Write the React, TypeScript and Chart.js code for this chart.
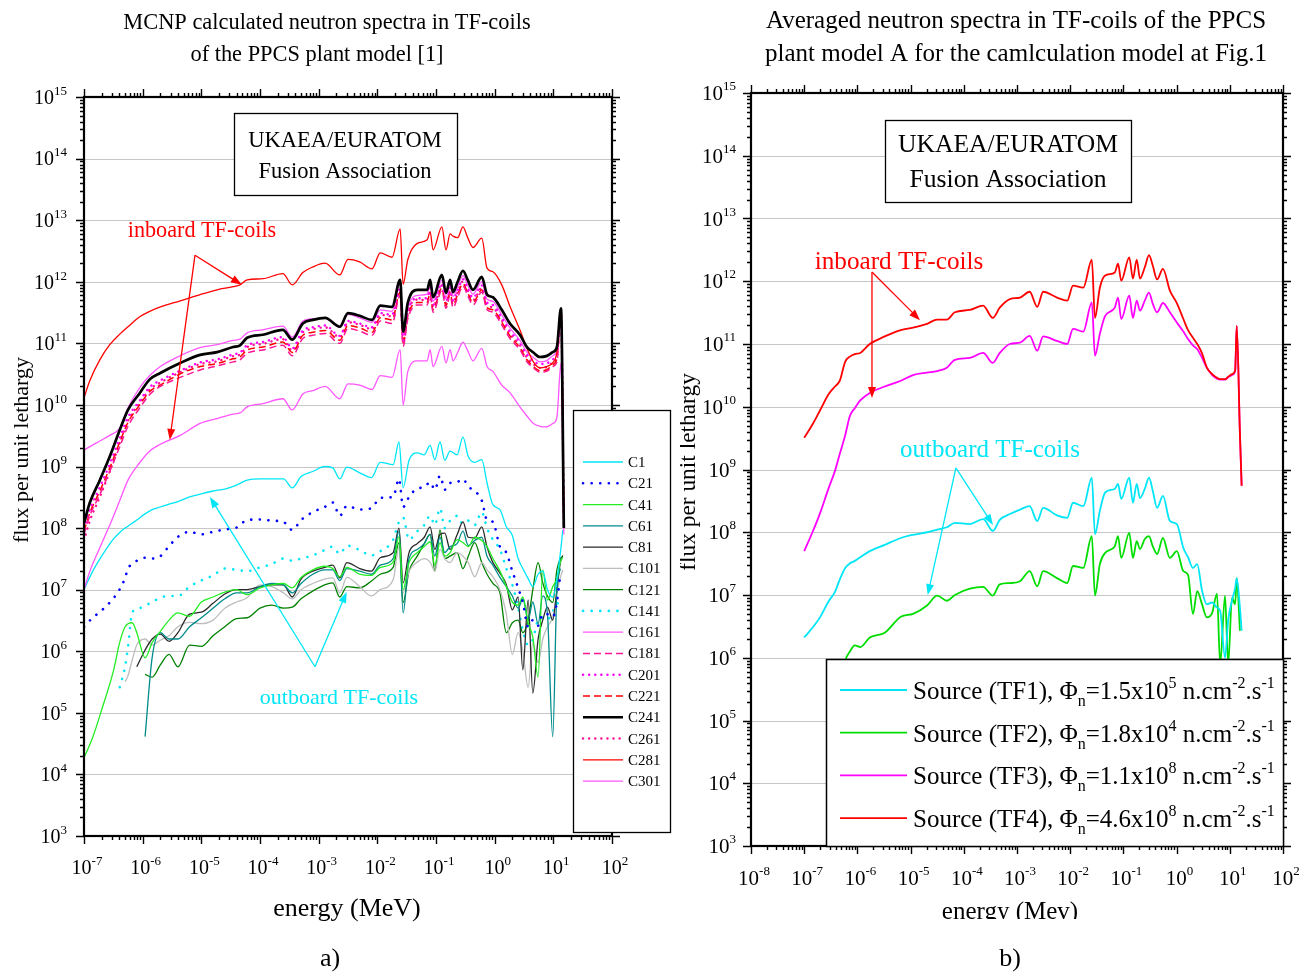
import { useEffect, useRef } from 'react';
import { Chart, registerables } from 'chart.js';

Chart.register(...registerables);

const SERIF = '"Liberation Serif", "Times New Roman", "DejaVu Serif", serif';
const RED = '#ff0000';
const CYAN = '#00e6f6';

/* ================= panel a) : MCNP spectra of individual coils ================= */

// energy grid of the inboard coil spectra (MeV)
const E_IN = [1.0e-7, 1.26e-7, 1.86e-7, 2.75e-7, 4.07e-7, 5.62e-7, 8.9e-7, 1.32e-6,
  2.0e-6, 4.37e-6, 9.55e-6, 1.86e-5, 3.47e-5, 4.57e-5, 6.03e-5, 1.12e-4,
  2.45e-4, 3.55e-4, 5.37e-4, 7.94e-4, 1.29e-3, 2.29e-3, 3.16e-3, 5.0e-3,
  8.13e-3, 1.12e-2, 1.78e-2, 2.45e-2, 2.75e-2, 3.31e-2, 4.79e-2, 7.08e-2,
  7.94e-2, 8.91e-2, 0.126, 0.148, 0.174, 0.195, 0.234, 0.288,
  0.347, 0.427, 0.603, 0.741, 0.933, 1.32, 1.82, 2.69,
  3.55, 4.57, 5.89, 7.59, 9.77, 11.5, 13.5, 15.1];

const C161 = [1.86e9, 2.1e9, 2.6e9, 3.2e9, 4.2e9, 8.9e9, 1.9e10, 3.0e10,
  4.2e10, 6.3e10, 8.5e10, 9.5e10, 1.12e11, 1.17e11, 1.48e11, 1.66e11,
  1.9e11, 1.26e11, 2.3e11, 2.5e11, 2.6e11, 1.82e11, 2.95e11, 2.6e11,
  2.2e11, 3.5e11, 3.3e11, 9.5e11, 1.41e11, 3.8e11, 6.0e11, 6.3e11,
  8.9e11, 4.8e11, 1.05e12, 5.6e11, 8.9e11, 5.8e11, 8.3e11, 1.26e12,
  8.9e11, 6.3e11, 1.0e12, 5.2e11, 4.8e11, 2.9e11, 1.78e11, 1.12e11,
  7.2e10, 5.9e10, 5.0e10, 5.2e10, 6.3e10, 7.6e10, 3.2e11, 1.0e8];

const C181 = [7.9e7, 1.6e8, 3.5e8, 8.3e8, 2.1e9, 4.5e9, 8.9e9, 1.48e10,
  2.0e10, 2.8e10, 3.7e10, 4.3e10, 5.0e10, 5.4e10, 6.9e10, 7.8e10,
  9.3e10, 6.3e10, 1.2e11, 1.35e11, 1.45e11, 1.0e11, 1.74e11, 1.58e11,
  1.35e11, 2.3e11, 2.1e11, 6.0e11, 8.9e10, 2.5e11, 4.2e11, 4.2e11,
  6.0e11, 3.2e11, 7.2e11, 3.7e11, 6.0e11, 3.8e11, 5.6e11, 8.5e11,
  6.0e11, 4.2e11, 6.8e11, 3.5e11, 3.2e11, 2.0e11, 1.2e11, 7.9e10,
  5.0e10, 4.0e10, 3.4e10, 3.5e10, 4.2e10, 5.0e10, 3.2e11, 1.0e8];

const C201 = [1.0e8, 2.0e8, 4.6e8, 1.1e9, 2.9e9, 6.3e9, 1.17e10, 1.95e10,
  2.5e10, 3.6e10, 4.9e10, 5.5e10, 6.6e10, 7.1e10, 9.3e10, 1.05e11,
  1.26e11, 8.3e10, 1.62e11, 1.82e11, 1.95e11, 1.32e11, 2.3e11, 2.1e11,
  1.82e11, 3.1e11, 2.9e11, 7.9e11, 1.12e11, 3.3e11, 5.4e11, 5.4e11,
  7.9e11, 4.2e11, 9.3e11, 4.8e11, 7.9e11, 5.0e11, 7.2e11, 1.1e12,
  7.9e11, 5.5e11, 8.7e11, 4.6e11, 4.2e11, 2.6e11, 1.58e11, 1.05e11,
  6.6e10, 5.2e10, 4.6e10, 4.7e10, 5.5e10, 6.6e10, 3.3e11, 1.0e8];

const C221 = [8.9e7, 1.78e8, 4.0e8, 9.5e8, 2.5e9, 5.2e9, 1.0e10, 1.66e10,
  2.1e10, 3.2e10, 4.2e10, 4.7e10, 5.6e10, 6.0e10, 7.8e10, 8.7e10,
  1.05e11, 7.1e10, 1.35e11, 1.51e11, 1.62e11, 1.12e11, 1.95e11, 1.78e11,
  1.51e11, 2.6e11, 2.4e11, 6.8e11, 1.0e11, 2.8e11, 4.6e11, 4.6e11,
  6.6e11, 3.5e11, 7.9e11, 4.1e11, 6.6e11, 4.2e11, 6.2e11, 9.3e11,
  6.6e11, 4.6e11, 7.4e11, 3.8e11, 3.5e11, 2.2e11, 1.32e11, 8.5e10,
  5.4e10, 4.2e10, 3.6e10, 3.7e10, 4.5e10, 5.6e10, 3.3e11, 1.0e8];

const C241 = [1.2e8, 2.6e8, 6.0e8, 1.45e9, 3.9e9, 8.3e9, 1.55e10, 2.6e10,
  3.3e10, 4.8e10, 6.5e10, 7.2e10, 8.7e10, 9.3e10, 1.23e11, 1.38e11,
  1.66e11, 1.15e11, 2.1e11, 2.4e11, 2.6e11, 1.86e11, 3.1e11, 2.8e11,
  2.4e11, 4.1e11, 3.9e11, 1.07e12, 1.55e11, 4.6e11, 7.4e11, 7.4e11,
  1.07e12, 5.6e11, 1.29e12, 6.6e11, 1.07e12, 6.8e11, 1.0e12, 1.51e12,
  1.07e12, 7.4e11, 1.2e12, 6.2e11, 5.6e11, 3.5e11, 2.1e11, 1.38e11,
  8.7e10, 7.1e10, 6.0e10, 6.2e10, 7.2e10, 8.7e10, 3.7e11, 1.0e8];

const C261 = [6.3e7, 1.32e8, 3.2e8, 8.3e8, 2.4e9, 5.5e9, 1.07e10, 1.78e10,
  2.3e10, 3.4e10, 4.6e10, 5.1e10, 6.2e10, 6.6e10, 8.7e10, 9.8e10,
  1.17e11, 7.6e10, 1.51e11, 1.7e11, 1.82e11, 1.26e11, 2.2e11, 2.0e11,
  1.7e11, 2.9e11, 2.75e11, 7.4e11, 1.07e11, 3.2e11, 5.1e11, 5.0e11,
  7.2e11, 3.9e11, 8.7e11, 4.5e11, 7.2e11, 4.6e11, 6.8e11, 1.02e12,
  7.2e11, 5.0e11, 7.9e11, 4.2e11, 3.8e11, 2.4e11, 1.45e11, 9.3e10,
  5.9e10, 4.6e10, 4.0e10, 4.1e10, 4.9e10, 6.0e10, 3.4e11, 1.0e8];

const C281 = [1.3e10, 2.5e10, 5.4e10, 9.5e10, 1.41e11, 1.86e11, 2.7e11, 3.3e11,
  3.9e11, 4.9e11, 6.2e11, 7.4e11, 8.3e11, 8.9e11, 1.07e12, 1.12e12,
  1.35e12, 8.9e11, 1.41e12, 1.74e12, 2.0e12, 1.29e12, 2.3e12, 2.1e12,
  1.62e12, 2.95e12, 2.5e12, 7.2e12, 9.1e11, 2.3e12, 4.2e12, 4.8e12,
  6.5e12, 3.3e12, 7.8e12, 3.3e12, 6.0e12, 5.5e12, 5.2e12, 7.8e12,
  5.2e12, 3.6e12, 5.1e12, 1.66e12, 1.45e12, 8.9e11, 4.0e11, 1.66e11,
  8.3e10, 5.0e10, 4.0e10, 4.2e10, 4.8e10, 7.2e10, 3.7e11, 1.26e8];

const C301 = [1.0e7, 2.0e7, 4.8e7, 1.12e8, 2.8e8, 6.0e8, 1.15e9, 1.78e9,
  2.3e9, 3.2e9, 5.0e9, 6.0e9, 7.1e9, 7.4e9, 9.3e9, 1.05e10,
  1.26e10, 8.3e9, 1.51e10, 1.7e10, 2.0e10, 1.26e10, 2.2e10, 2.1e10,
  1.78e10, 3.0e10, 2.8e10, 7.9e10, 1.0e10, 3.5e10, 5.2e10, 5.2e10,
  7.9e10, 4.2e10, 8.9e10, 4.8e10, 7.9e10, 5.2e10, 7.1e10, 1.05e11,
  7.6e10, 5.2e10, 8.3e10, 4.2e10, 3.5e10, 2.1e10, 1.58e10, 9.3e9,
  6.6e9, 5.0e9, 4.5e9, 4.4e9, 5.0e9, 6.3e9, 4.8e10, 7.9e7];

// energy grid of the outboard coil spectra (MeV)
const E_OUT = [1.0e-7, 1.41e-7, 2.0e-7, 3.16e-7, 4.07e-7, 5.01e-7, 5.62e-7, 6.61e-7,
  7.94e-7, 1.1e-6, 1.45e-6, 2.0e-6, 2.82e-6, 3.98e-6, 6.31e-6, 1.0e-5,
  1.58e-5, 2.51e-5, 3.98e-5, 6.03e-5, 1.0e-4, 1.58e-4, 2.51e-4, 3.55e-4,
  5.01e-4, 7.94e-4, 1.26e-3, 1.74e-3, 2.29e-3, 3.02e-3, 5.01e-3, 7.94e-3,
  1.12e-2, 1.86e-2, 2.34e-2, 2.75e-2, 3.47e-2, 4.79e-2, 6.31e-2, 7.94e-2,
  9.55e-2, 0.117, 0.141, 0.174, 0.229, 0.288, 0.355, 0.457,
  0.603, 0.741, 0.933, 1.23, 1.58, 2.0, 2.51, 3.02,
  3.72, 4.47, 5.5, 6.61, 7.94, 9.77, 11.5, 13.2,
  14.5];

const C1 = [1.0e7, 2.0e7, 3.5e7, 6.6e7, 8.5e7, 1.0e8, 1.07e8, 1.2e8,
  1.35e8, 1.7e8, 2.0e8, 2.2e8, 2.45e8, 2.7e8, 3.2e8, 3.6e8,
  4.0e8, 4.3e8, 5.0e8, 6.0e8, 6.3e8, 6.3e8, 6.3e8, 4.5e8,
  6.9e8, 8.3e8, 1.0e9, 9.5e8, 6.3e8, 9.8e8, 7.9e8, 6.6e8,
  1.17e9, 1.07e9, 2.5e9, 4.5e8, 1.26e9, 1.66e9, 1.55e9, 2.2e9,
  1.29e9, 2.5e9, 1.26e9, 1.78e9, 1.55e9, 3.0e9, 1.45e9, 1.17e9,
  1.29e9, 5.4e8, 2.4e8, 2.0e8, 1.05e8, 7.6e7, 3.2e7, 2.2e7,
  1.51e7, 1.12e7, 1.78e7, 2.0e7, 1.0e7, 7.6e6, 1.45e7, 4.0e7,
  9.3e7];

const C21 = [2.5e6, 3.5e6, 4.6e6, 7.2e6, 1.02e7, 1.55e7, 2.2e7, 2.6e7,
  2.95e7, 3.3e7, 3.2e7, 3.5e7, 5.1e7, 7.2e7, 8.7e7, 7.9e7,
  8.7e7, 9.5e7, 1.02e8, 1.35e8, 1.38e8, 1.32e8, 1.26e8, 9.3e7,
  1.35e8, 1.82e8, 2.2e8, 2.6e8, 1.58e8, 2.3e8, 2.0e8, 2.1e8,
  3.1e8, 3.2e8, 6.3e8, 2.2e8, 3.2e8, 4.4e8, 4.6e8, 5.6e8,
  4.2e8, 7.1e8, 4.2e8, 5.4e8, 5.6e8, 6.3e8, 4.7e8, 4.0e8,
  2.8e8, 1.35e8, 1.26e8, 5.0e7, 4.0e7, 2.0e7, 1.07e7, 6.2e6,
  2.5e6, 3.2e6, 2.6e6, 4.0e6, 4.0e6, 3.6e6, 6.2e6, 1.86e7,
  null];

const C41 = [1.86e4, 4.0e4, 1.12e5, 4.7e5, 1.41e6, 2.5e6, 2.8e6, 2.9e6,
  2.0e6, 7.8e5, 1.38e6, 2.1e6, 3.2e6, 4.2e6, 3.7e6, 6.3e6,
  7.6e6, 9.1e6, 1.0e7, 8.3e6, 1.07e7, 1.2e7, 1.26e7, 1.07e7,
  1.58e7, 2.1e7, 2.4e7, 2.2e7, 1.62e7, 2.3e7, 1.78e7, 1.7e7,
  2.3e7, 2.8e7, 7.2e7, 1.0e7, 2.75e7, 4.0e7, 5.0e7, 6.0e7,
  2.5e7, 5.8e7, 3.5e7, 4.0e7, 6.5e7, 5.8e7, 5.0e7, 7.1e7,
  6.3e7, 5.0e7, 3.2e7, 2.0e7, 1.12e7, 6.3e6, 5.6e6, 7.6e6,
  2.9e6, 1.7e6, 3.8e5, 2.1e7, 6.8e6, 1.12e7, 1.51e7, 2.8e7,
  3.4e7];

const C61 = [null, null, null, null, null, null, null, null,
  null, 4.1e4, 7.9e5, 2.0e6, 1.58e6, 1.58e6, 2.5e6, 3.5e6,
  5.0e6, 7.1e6, 8.9e6, 8.9e6, 1.12e7, 1.26e7, 1.2e7, 8.9e6,
  1.26e7, 1.78e7, 2.1e7, 2.1e7, 1.41e7, 2.2e7, 2.0e7, 1.78e7,
  2.5e7, 3.2e7, 8.9e7, 4.2e6, 3.2e7, 4.5e7, 5.6e7, 7.9e7,
  3.5e7, 7.1e7, 4.0e7, 5.0e7, 5.6e7, 8.9e7, 5.2e7, 6.3e7,
  7.1e7, 3.5e7, 2.5e7, 1.58e7, 1.12e7, 7.9e6, 5.0e6, 7.1e6,
  3.2e6, 6.3e6, 2.8e6, 7.9e6, 4.0e6, 4.1e4, 1.0e7, 2.2e7,
  null];

const C81 = [null, null, null, null, null, null, null, null,
  5.6e5, 1.05e6, 1.58e6, 1.9e6, 1.45e6, 2.0e6, 4.0e6, 4.3e6,
  6.0e6, 8.5e6, 1.0e7, 1.0e7, 1.12e7, 1.2e7, 1.2e7, 7.6e6,
  1.48e7, 2.0e7, 2.3e7, 2.5e7, 1.55e7, 2.75e7, 2.2e7, 2.0e7,
  3.3e7, 4.0e7, 1.0e8, 1.29e7, 4.0e7, 5.6e7, 7.1e7, 1.05e8,
  4.5e7, 7.9e7, 8.3e7, 4.5e7, 7.8e7, 1.26e8, 7.1e7, 6.9e7,
  1.05e8, 4.9e7, 2.75e7, 1.86e7, 1.2e7, 4.7e6, 7.6e6, 5.0e5,
  6.8e6, 2.1e5, 1.58e6, 3.2e6, 5.2e6, 3.2e6, 1.0e7, 2.8e7,
  3.6e7];

const C101 = [null, null, null, null, null, 3.2e5, 4.0e5, 7.1e5,
  1.26e6, 1.58e6, 1.26e6, 1.51e6, 1.78e6, 2.5e6, 2.95e6, 2.8e6,
  3.2e6, 5.0e6, 6.3e6, 7.4e6, 1.2e7, 1.12e7, 8.9e6, 7.1e6,
  1.0e7, 1.26e7, 1.48e7, 1.55e7, 8.9e6, 1.58e7, 1.12e7, 7.9e6,
  1.0e7, 1.45e7, 4.9e7, 8.9e6, 2.0e7, 2.8e7, 3.2e7, 2.8e7,
  2.0e7, 4.5e7, 3.2e7, 2.75e7, 4.0e7, 3.5e7, 2.75e7, 1.62e7,
  2.75e7, 2.1e7, 1.62e7, 1.0e7, 4.0e6, 8.9e5, 2.0e6, 1.0e6,
  2.6e5, 1.38e6, 6.5e5, 1.58e6, 2.5e6, 3.6e6, 8.9e6, 1.58e7,
  2.1e7];

const C121 = [null, null, null, null, null, null, null, null,
  null, 4.2e5, 3.8e5, 6.0e5, 8.9e5, 5.6e5, 1.26e6, 1.2e6,
  1.78e6, 2.5e6, 3.4e6, 3.5e6, 5.0e6, 5.6e6, 5.0e6, 5.2e6,
  7.1e6, 9.5e6, 1.2e7, 1.29e7, 7.6e6, 1.12e7, 1.07e7, 1.38e7,
  1.78e7, 2.3e7, 5.8e7, 6.2e6, 2.0e7, 3.5e7, 5.6e7, 7.9e7,
  2.0e7, 9.3e7, 3.2e7, 3.5e7, 4.0e7, 2.2e7, 3.5e7, 5.8e7,
  2.75e7, 1.78e7, 1.26e7, 8.9e6, 2.0e6, 2.9e6, 3.2e6, 2.0e6,
  3.2e6, 1.0e7, 2.75e7, 1.29e7, 7.9e6, 6.2e6, 2.1e7, 3.2e7,
  3.4e7];

const C141 = [null, null, null, null, 2.6e5, 5.6e5, 1.17e6, 4.2e6,
  4.8e6, 5.5e6, 6.3e6, 7.4e6, 7.9e6, 7.9e6, 1.12e7, 1.41e7,
  1.7e7, 2.2e7, 2.1e7, 2.0e7, 2.3e7, 2.6e7, 3.2e7, 2.95e7,
  3.2e7, 3.6e7, 4.4e7, 5.0e7, 3.8e7, 5.2e7, 4.4e7, 3.6e7,
  4.2e7, 6.5e7, 1.26e8, 1.48e8, 6.5e7, 8.9e7, 1.12e8, 1.58e8,
  1.12e8, 2.1e8, 1.0e8, 1.32e8, 1.58e8, 1.17e8, 1.32e8, 1.12e8,
  1.82e8, 1.0e8, 6.5e7, 4.5e7, 2.2e7, 1.2e7, 5.2e6, 2.2e6,
  1.26e6, 1.55e6, 3.2e6, 3.5e6, 3.2e6, 4.5e6, 5.6e6, 7.9e6,
  null];

/* ================= panel b) : averaged spectra ================= */

// energy grid (MeV)
const E_AVG = [1.0e-7, 1.43e-7, 1.98e-7, 2.87e-7, 3.79e-7, 4.67e-7, 5.89e-7, 7.24e-7,
  8.93e-7, 1.13e-6, 1.71e-6, 3.27e-6, 6.55e-6, 1.11e-5, 2.04e-5, 3.16e-5,
  4.8e-5, 6.78e-5, 1.3e-4, 2.31e-4, 3.51e-4, 4.74e-4, 7.36e-4, 1.14e-3,
  1.73e-3, 2.4e-3, 3.1e-3, 5.65e-3, 8.77e-3, 1.13e-2, 1.76e-2, 2.55e-2,
  2.92e-2, 3.61e-2, 4.54e-2, 6.89e-2, 7.93e-2, 9.1e-2, 0.129, 0.151,
  0.178, 0.205, 0.252, 0.303, 0.356, 0.43, 0.553, 0.748,
  1.01, 1.34, 1.64, 2.03, 2.44, 3.01, 3.7, 4.67,
  5.74, 6.59, 8.13, 9.33, 11.0, 12.6, 13.5, 15.5,
  16.7];

const TF1 = [2.1e6, 3.0e6, 4.4e6, 7.9e6, 1.12e7, 1.78e7, 2.7e7, 3.2e7,
  3.5e7, 4.0e7, 5.0e7, 6.3e7, 8.1e7, 9.1e7, 1.0e8, 1.1e8,
  1.2e8, 1.41e8, 1.35e8, 1.62e8, 1.05e8, 1.58e8, 1.95e8, 2.3e8,
  2.6e8, 1.51e8, 2.45e8, 1.86e8, 1.7e8, 2.95e8, 2.6e8, 7.4e8,
  9.3e7, 2.2e8, 4.3e8, 4.9e8, 5.9e8, 3.4e8, 7.4e8, 2.95e8,
  5.9e8, 3.5e8, 4.9e8, 7.4e8, 4.6e8, 2.45e8, 3.8e8, 1.51e8,
  1.35e8, 5.6e7, 4.0e7, 2.7e7, 3.1e7, 1.17e7, 7.1e6, 7.6e6,
  6.3e6, 5.6e6, 1.0e6, 4.0e6, 8.1e6, 1.29e7, 1.86e7, 6.3e6,
  2.7e6];

const TF2 = [null, null, null, 3.2e4, 1.0e5, 2.8e5, 8.9e5, 1.26e6,
  1.58e6, 1.48e6, 2.1e6, 2.5e6, 4.5e6, 5.0e6, 6.8e6, 9.8e6,
  8.1e6, 1.0e7, 1.26e7, 1.35e7, 9.8e6, 1.48e7, 1.55e7, 1.66e7,
  2.4e7, 1.38e7, 2.4e7, 1.86e7, 1.55e7, 2.9e7, 2.7e7, 8.7e7,
  9.8e6, 3.1e7, 4.7e7, 6.0e7, 8.7e7, 3.9e7, 9.8e7, 3.9e7,
  7.2e7, 5.4e7, 7.8e7, 8.7e7, 6.0e7, 4.5e7, 8.1e7, 3.9e7,
  5.0e7, 2.4e7, 2.1e7, 5.0e6, 1.15e7, 7.1e6, 4.4e6, 5.2e6,
  1.05e7, 7.9e5, 9.8e6, 7.9e5, 9.1e6, 7.1e6, 1.86e7, 2.7e6,
  null];

const TF3 = [5.0e7, 1.0e8, 2.0e8, 5.0e8, 9.5e8, 1.78e9, 3.5e9, 7.2e9,
  9.5e9, 1.26e10, 1.66e10, 2.1e10, 2.6e10, 3.2e10, 3.5e10, 3.7e10,
  4.2e10, 5.6e10, 6.0e10, 7.2e10, 5.0e10, 7.2e10, 1.0e11, 1.05e11,
  1.35e11, 7.8e10, 1.32e11, 1.12e11, 1.0e11, 1.74e11, 1.58e11, 4.6e11,
  6.5e10, 1.45e11, 2.8e11, 3.8e11, 5.5e11, 2.5e11, 5.9e11, 2.6e11,
  4.9e11, 3.4e11, 4.9e11, 6.6e11, 4.4e11, 3.2e11, 4.5e11, 3.2e11,
  2.2e11, 1.58e11, 1.2e11, 9.5e10, 8.3e10, 6.0e10, 4.2e10, 3.2e10,
  2.8e10, 2.7e10, 2.7e10, 2.95e10, 3.2e10, 3.7e10, 1.95e11, 3.7e9,
  5.5e8];

const TF4 = [3.2e9, 5.2e9, 8.7e9, 1.58e10, 2.1e10, 2.6e10, 5.2e10, 6.3e10,
  6.9e10, 7.2e10, 1.0e11, 1.32e11, 1.66e11, 1.82e11, 2.1e11, 2.45e11,
  2.45e11, 3.2e11, 3.5e11, 4.1e11, 2.6e11, 3.8e11, 5.2e11, 5.5e11,
  6.8e11, 3.9e11, 6.8e11, 5.5e11, 4.9e11, 8.5e11, 7.9e11, 2.2e12,
  2.6e11, 7.9e11, 1.23e12, 1.38e12, 1.9e12, 1.02e12, 2.4e12, 1.1e12,
  2.2e12, 1.1e12, 1.66e12, 2.6e12, 1.78e12, 1.07e12, 1.58e12, 7.1e11,
  4.5e11, 2.5e11, 1.66e11, 1.26e11, 1.0e11, 7.1e10, 4.2e10, 3.3e10,
  2.9e10, 2.75e10, 2.75e10, 3.0e10, 3.3e10, 3.8e10, 1.95e11, 3.7e9,
  5.5e8];

const TF_NAMES = ['TF1', 'TF2', 'TF3', 'TF4'];
const TF_FLUX_MANTISSA = ['1.5', '1.8', '1.1', '4.6'];
const TF_FLUX_EXPONENT = ['5', '4', '8', '8'];

// decade exponents carrying labelled ticks
const A_X_EXP = [-7, -6, -5, -4, -3, -2, -1, 0, 1, 2];
const A_Y_EXP = [3, 4, 5, 6, 7, 8, 9, 10, 11, 12, 13, 14, 15];
const B_X_EXP = [-8, -7, -6, -5, -4, -3, -2, -1, 0, 1, 2];
const B_Y_EXP = [3, 4, 5, 6, 7, 8, 9, 10, 11, 12, 13, 14, 15];

/* ================= styles ================= */

const DOT = (gap: number) => [0.1, gap];

const A_STYLES = [
  { name: 'C1', e: E_OUT, f: C1, color: CYAN, width: 1.3, dash: [] as number[], cap: 'butt', z: 3 },
  { name: 'C21', e: E_OUT, f: C21, color: '#0000ff', width: 2.6, dash: DOT(8.5), cap: 'round', z: 3 },
  { name: 'C41', e: E_OUT, f: C41, color: '#22ee22', width: 1.3, dash: [], cap: 'butt', z: 3 },
  { name: 'C61', e: E_OUT, f: C61, color: '#008b8b', width: 1.3, dash: [], cap: 'butt', z: 3 },
  { name: 'C81', e: E_OUT, f: C81, color: '#2a2a2a', width: 1.3, dash: [], cap: 'butt', z: 3 },
  { name: 'C101', e: E_OUT, f: C101, color: '#bdbdbd', width: 1.3, dash: [], cap: 'butt', z: 3 },
  { name: 'C121', e: E_OUT, f: C121, color: '#008000', width: 1.3, dash: [], cap: 'butt', z: 3 },
  { name: 'C141', e: E_OUT, f: C141, color: CYAN, width: 2.6, dash: DOT(8.5), cap: 'round', z: 3 },
  { name: 'C161', e: E_IN, f: C161, color: '#ff55ff', width: 1.3, dash: [], cap: 'butt', z: 2 },
  { name: 'C181', e: E_IN, f: C181, color: '#ff1493', width: 1.5, dash: [7, 4], cap: 'butt', z: 2 },
  { name: 'C201', e: E_IN, f: C201, color: '#ff00ff', width: 2.4, dash: DOT(6), cap: 'round', z: 2 },
  { name: 'C221', e: E_IN, f: C221, color: '#ff0000', width: 1.5, dash: [7, 4], cap: 'butt', z: 2 },
  { name: 'C241', e: E_IN, f: C241, color: '#000000', width: 2.7, dash: [], cap: 'butt', z: 0 },
  { name: 'C261', e: E_IN, f: C261, color: '#ff1493', width: 2.4, dash: DOT(6), cap: 'round', z: 2 },
  { name: 'C281', e: E_IN, f: C281, color: '#ff0000', width: 1.3, dash: [], cap: 'butt', z: 1 },
  { name: 'C301', e: E_IN, f: C301, color: '#ff55ff', width: 1.3, dash: [], cap: 'butt', z: 2 },
];

const B_STYLES = [
  { f: TF1, color: CYAN, z: 2 },
  { f: TF2, color: '#00dd00', z: 3 },
  { f: TF3, color: '#ff00ff', z: 1 },
  { f: TF4, color: '#ff0000', z: 0 },
];

// annotation arrows, in data coordinates [energy, flux]
const A_ARROWS = [
  { from: [7.8e-6, 2.7e12], to: [4.9e-5, 8.9e11], color: RED },
  { from: [7.8e-6, 2.7e12], to: [2.9e-6, 2.7e9], color: RED },
  { from: [8.65e-4, 5.6e5], to: [1.4e-5, 3.2e8], color: CYAN },
  { from: [8.65e-4, 5.6e5], to: [3.0e-3, 9.2e6], color: CYAN },
];
const B_ARROWS = [
  { from: [1.88e-6, 1.4e12], to: [1.5e-5, 2.4e11], color: RED },
  { from: [1.88e-6, 1.4e12], to: [1.88e-6, 1.38e10], color: RED },
  { from: [7.1e-5, 1.06e9], to: [3.54e-4, 1.3e8], color: CYAN },
  { from: [7.1e-5, 1.06e9], to: [2.1e-5, 1.0e7], color: CYAN },
];

/* ================= drawing helpers ================= */

type Run = { t: string; size: number; dy?: number };

function drawRuns(ctx: CanvasRenderingContext2D, runs: Run[], x: number, y: number,
  align: 'left' | 'center' | 'right', color: string) {
  let total = 0;
  const widths = runs.map((r) => {
    ctx.font = `${r.size}px ${SERIF}`;
    const w = ctx.measureText(r.t).width;
    total += w;
    return w;
  });
  let cx = align === 'left' ? x : align === 'center' ? x - total / 2 : x - total;
  ctx.fillStyle = color;
  ctx.textAlign = 'left';
  ctx.textBaseline = 'alphabetic';
  runs.forEach((r, i) => {
    ctx.font = `${r.size}px ${SERIF}`;
    ctx.fillText(r.t, cx, y + (r.dy || 0));
    cx += widths[i];
  });
}

function text(ctx: CanvasRenderingContext2D, s: string, x: number, y: number, size: number,
  color = '#000', align: CanvasTextAlign = 'center') {
  ctx.font = `${size}px ${SERIF}`;
  ctx.fillStyle = color;
  ctx.textAlign = align;
  ctx.textBaseline = 'alphabetic';
  ctx.fillText(s, x, y);
}

function vText(ctx: CanvasRenderingContext2D, s: string, x: number, y: number, size: number) {
  ctx.save();
  ctx.translate(x, y);
  ctx.rotate(-Math.PI / 2);
  ctx.font = `${size}px ${SERIF}`;
  ctx.fillStyle = '#000';
  ctx.textAlign = 'center';
  ctx.textBaseline = 'middle';
  ctx.fillText(s, 0, 0);
  ctx.restore();
}

function drawDecadeGrid(chart: any, yExp: number[]) {
  const { ctx, chartArea: a, scales } = chart;
  ctx.save();
  ctx.strokeStyle = '#c6c6c6';
  ctx.lineWidth = 1;
  ctx.beginPath();
  yExp.forEach((e) => {
    const py = Math.round(scales.y.getPixelForValue(Math.pow(10, e))) + 0.5;
    if (py > a.top + 2 && py < a.bottom - 2) {
      ctx.moveTo(a.left, py);
      ctx.lineTo(a.right, py);
    }
  });
  ctx.stroke();
  ctx.restore();
}

function drawFrame(chart: any, xExp: number[], yExp: number[], major: number, minor: number) {
  const { ctx, chartArea: a, scales } = chart;
  const each = (exps: number[], fn: (v: number, mj: boolean) => void) => {
    exps.forEach((e, i) => {
      fn(Math.pow(10, e), true);
      if (i < exps.length - 1) for (let m = 2; m <= 9; m++) fn(m * Math.pow(10, e), false);
    });
  };
  ctx.save();
  ctx.strokeStyle = '#000';
  ctx.lineWidth = 1.4;
  ctx.beginPath();
  each(xExp, (v, mj) => {
    const px = Math.round(scales.x.getPixelForValue(v)) + 0.5;
    const len = mj ? major : minor;
    ctx.moveTo(px, a.bottom);
    ctx.lineTo(px, a.bottom + len);
    ctx.moveTo(px, a.top);
    ctx.lineTo(px, a.top - len);
  });
  each(yExp, (v, mj) => {
    const py = Math.round(scales.y.getPixelForValue(v)) + 0.5;
    const len = mj ? major : minor;
    ctx.moveTo(a.left, py);
    ctx.lineTo(a.left - len, py);
    ctx.moveTo(a.right, py);
    ctx.lineTo(a.right + len, py);
  });
  ctx.stroke();
  ctx.lineWidth = 2.2;
  ctx.strokeRect(a.left, a.top, a.right - a.left, a.bottom - a.top);
  ctx.restore();
}

function drawTickLabels(chart: any, xExp: number[], yExp: number[], big: number, small: number,
  rise: number, yRight: number, xBase: number) {
  const { ctx, chartArea: a, scales } = chart;
  yExp.forEach((e) => {
    const py = scales.y.getPixelForValue(Math.pow(10, e));
    drawRuns(ctx, [{ t: '10', size: big }, { t: String(e), size: small, dy: -rise }],
      a.left - yRight, py + big * 0.34, 'right', '#000');
  });
  xExp.forEach((e) => {
    const px = scales.x.getPixelForValue(Math.pow(10, e));
    drawRuns(ctx, [{ t: '10', size: big }, { t: String(e), size: small, dy: -rise }],
      px + 3, a.bottom + xBase, 'center', '#000');
  });
}

function drawArrows(chart: any, arrows: { from: number[]; to: number[]; color: string }[]) {
  const { ctx, scales } = chart;
  ctx.save();
  arrows.forEach((ar) => {
    const x0 = scales.x.getPixelForValue(ar.from[0]);
    const y0 = scales.y.getPixelForValue(ar.from[1]);
    const x1 = scales.x.getPixelForValue(ar.to[0]);
    const y1 = scales.y.getPixelForValue(ar.to[1]);
    const ang = Math.atan2(y1 - y0, x1 - x0);
    const head = 11;
    const half = 4;
    ctx.strokeStyle = ar.color;
    ctx.fillStyle = ar.color;
    ctx.lineWidth = 1.3;
    ctx.beginPath();
    ctx.moveTo(x0, y0);
    ctx.lineTo(x1 - head * 0.8 * Math.cos(ang), y1 - head * 0.8 * Math.sin(ang));
    ctx.stroke();
    ctx.beginPath();
    ctx.moveTo(x1, y1);
    ctx.lineTo(x1 - head * Math.cos(ang) + half * Math.sin(ang), y1 - head * Math.sin(ang) - half * Math.cos(ang));
    ctx.lineTo(x1 - head * Math.cos(ang) - half * Math.sin(ang), y1 - head * Math.sin(ang) + half * Math.cos(ang));
    ctx.closePath();
    ctx.fill();
  });
  ctx.restore();
}

function whiteBox(ctx: CanvasRenderingContext2D, x0: number, y0: number, x1: number, y1: number, lw = 1.3) {
  ctx.save();
  ctx.fillStyle = '#fff';
  ctx.fillRect(x0, y0, x1 - x0, y1 - y0);
  ctx.strokeStyle = '#000';
  ctx.lineWidth = lw;
  ctx.strokeRect(x0 + 0.5, y0 + 0.5, x1 - x0, y1 - y0);
  ctx.restore();
}

/* ================= panel decorations ================= */

const decoA = {
  id: 'decoA',
  beforeDatasetsDraw(chart: any) {
    drawDecadeGrid(chart, A_Y_EXP);
  },
  afterDatasetsDraw(chart: any) {
    const ctx: CanvasRenderingContext2D = chart.ctx;
    drawFrame(chart, A_X_EXP, A_Y_EXP, 8, 4);
    drawTickLabels(chart, A_X_EXP, A_Y_EXP, 20, 13, 9, 17, 38);

    // coil legend
    whiteBox(ctx, 573, 410, 670, 832);
    A_STYLES.forEach((s, i) => {
      const y = 462 + i * 21.27;
      ctx.save();
      ctx.strokeStyle = s.color;
      ctx.lineWidth = s.width;
      ctx.setLineDash(s.dash);
      ctx.lineCap = s.cap as CanvasLineCap;
      ctx.beginPath();
      ctx.moveTo(583, y);
      ctx.lineTo(623, y);
      ctx.stroke();
      ctx.restore();
      text(ctx, s.name, 628, y + 5, 15, '#000', 'left');
    });

    // association box
    whiteBox(ctx, 234, 113, 457, 195);
    text(ctx, 'UKAEA/EURATOM', 345, 147, 22.5);
    text(ctx, 'Fusion Association', 345, 178, 22.5);

    text(ctx, 'inboard TF-coils', 202, 237, 22.2, RED);
    text(ctx, 'outboard TF-coils', 339, 704, 22, CYAN);
    drawArrows(chart, A_ARROWS);

    text(ctx, 'MCNP calculated neutron spectra in TF-coils', 327, 29, 22.4);
    text(ctx, 'of the PPCS plant model [1]', 317, 61, 22.4);
    vText(ctx, 'flux per unit lethargy', 22, 450, 22);
    text(ctx, 'energy (MeV)', 347, 916, 26);
    text(ctx, 'a)', 330, 966, 26);
  },
};

const decoB = {
  id: 'decoB',
  beforeDatasetsDraw(chart: any) {
    drawDecadeGrid(chart, B_Y_EXP);
  },
  afterDatasetsDraw(chart: any) {
    const ctx: CanvasRenderingContext2D = chart.ctx;
    drawFrame(chart, B_X_EXP, B_Y_EXP, 8, 4);
    drawTickLabels(chart, B_X_EXP, B_Y_EXP, 21, 13, 10, 15, 39);

    // source legend
    whiteBox(ctx, 146, 659, 603, 846, 1.5);
    B_STYLES.forEach((s, i) => {
      const y = 690 + i * 42.7;
      ctx.save();
      ctx.strokeStyle = s.color;
      ctx.lineWidth = 1.8;
      ctx.beginPath();
      ctx.moveTo(160, y);
      ctx.lineTo(227, y);
      ctx.stroke();
      ctx.restore();
      drawRuns(ctx, [
        { t: `Source (${TF_NAMES[i]}), \u03A6`, size: 25 },
        { t: 'n', size: 16, dy: 7 },
        { t: `=${TF_FLUX_MANTISSA[i]}x10`, size: 25 },
        { t: TF_FLUX_EXPONENT[i], size: 16, dy: -11 },
        { t: ' n.cm', size: 25 },
        { t: '-2', size: 16, dy: -11 },
        { t: '.s', size: 25 },
        { t: '-1', size: 16, dy: -11 },
      ], 233, y + 9, 'left', '#000');
    });

    whiteBox(ctx, 205, 120, 451, 202);
    text(ctx, 'UKAEA/EURATOM', 328, 152, 25.6);
    text(ctx, 'Fusion Association', 328, 187, 25.6);

    text(ctx, 'inboard TF-coils', 219, 269, 25.2, RED);
    text(ctx, 'outboard TF-coils', 310, 457, 25, CYAN);
    drawArrows(chart, B_ARROWS);

    text(ctx, 'Averaged neutron spectra in TF-coils of the PPCS', 336, 28, 25);
    text(ctx, 'plant model A for the camlculation model at Fig.1', 336, 61, 25);
    vText(ctx, 'flux per unit lethargy', 9, 472, 23.4);
    ctx.save();
    ctx.beginPath();
    ctx.rect(0, 880, 629, 39);
    ctx.clip();
    text(ctx, 'energy (Mev)', 330, 919, 25);
    ctx.restore();
    text(ctx, 'b)', 330, 966, 26);
  },
};

/* ================= chart configs ================= */

function logAxis(min: number, max: number) {
  return {
    type: 'logarithmic',
    min,
    max,
    ticks: { display: false },
    grid: { display: false, drawTicks: false },
    border: { display: false },
  };
}

function baseOptions(pad: { left: number; top: number; right: number; bottom: number },
  xMin: number, xMax: number) {
  return {
    responsive: false,
    animation: false,
    events: [],
    layout: { padding: pad, autoPadding: false },
    plugins: { legend: { display: false }, tooltip: { enabled: false }, title: { display: false } },
    scales: { x: logAxis(xMin, xMax), y: logAxis(1e3, 1e15) },
  };
}

function configA(): any {
  return {
    type: 'line',
    data: {
      datasets: A_STYLES.map((s) => ({
        label: s.name,
        data: s.e.map((x, i) => ({ x, y: s.f[i] })),
        borderColor: s.color,
        backgroundColor: s.color,
        borderWidth: s.width,
        borderDash: s.dash,
        borderCapStyle: s.cap,
        pointRadius: 0,
        pointHoverRadius: 0,
        fill: false,
        cubicInterpolationMode: 'monotone',
        order: s.z,
      })),
    },
    options: baseOptions({ left: 84, top: 97, right: 68, bottom: 136 }, 1e-7, 1e2),
    plugins: [decoA],
  };
}

function configB(): any {
  return {
    type: 'line',
    data: {
      datasets: B_STYLES.map((s, i) => ({
        label: `Source (${TF_NAMES[i]})`,
        data: E_AVG.map((x, k) => ({ x, y: s.f[k] })),
        borderColor: s.color,
        backgroundColor: s.color,
        borderWidth: 1.8,
        pointRadius: 0,
        pointHoverRadius: 0,
        fill: false,
        cubicInterpolationMode: 'monotone',
        order: s.z,
      })),
    },
    options: baseOptions({ left: 71, top: 93, right: 26, bottom: 126 }, 1e-8, 1e2),
    plugins: [decoB],
  };
}

export default function App() {
  const refA = useRef<HTMLCanvasElement>(null);
  const refB = useRef<HTMLCanvasElement>(null);

  useEffect(() => {
    const a = new Chart(refA.current as HTMLCanvasElement, configA());
    const b = new Chart(refB.current as HTMLCanvasElement, configB());
    return () => {
      a.destroy();
      b.destroy();
    };
  }, []);

  return (
    <div style={{ position: 'absolute', left: 0, top: 0, width: 1309, height: 972, background: '#fff' }}>
      <canvas ref={refA} width={680} height={972} style={{ position: 'absolute', left: 0, top: 0 }} />
      <canvas ref={refB} width={629} height={972} style={{ position: 'absolute', left: 680, top: 0 }} />
    </div>
  );
}
